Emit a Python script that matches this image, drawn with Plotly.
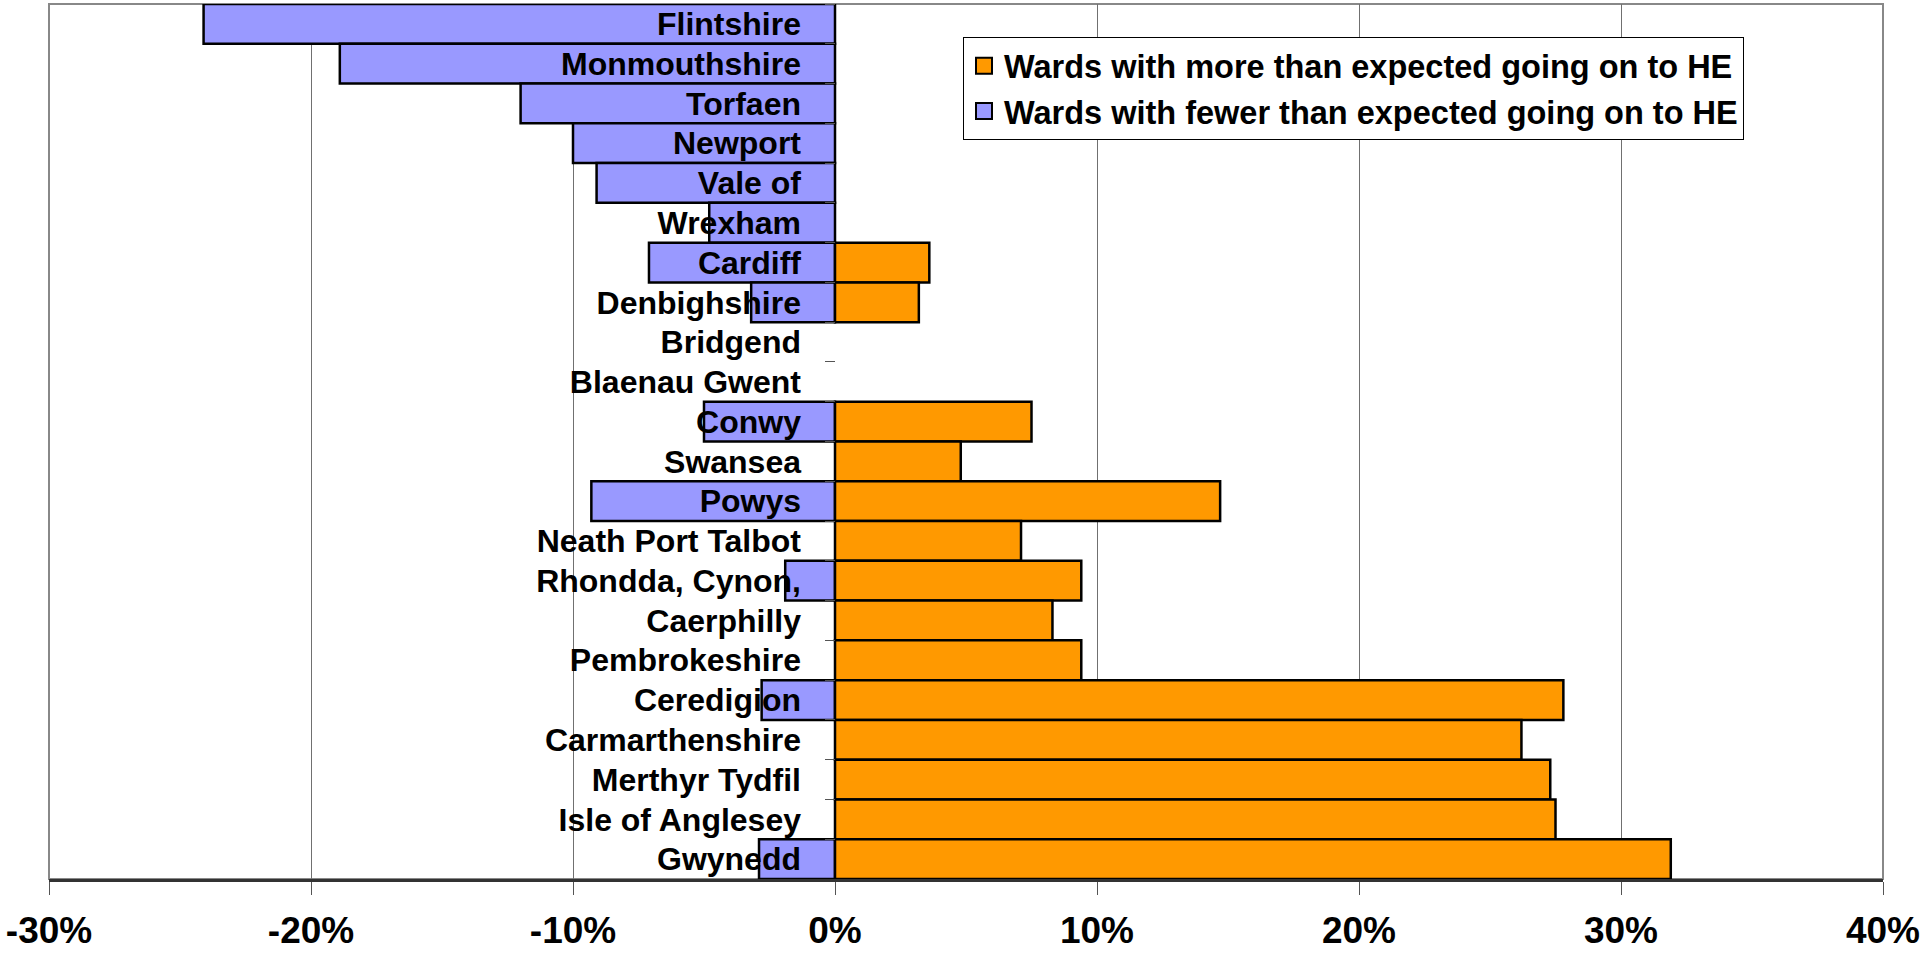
import plotly.graph_objects as go

categories = ["Flintshire", "Monmouthshire", "Torfaen", "Newport", "Vale of", "Wrexham",
              "Cardiff", "Denbighshire", "Bridgend", "Blaenau Gwent", "Conwy", "Swansea",
              "Powys", "Neath Port Talbot", "Rhondda, Cynon,", "Caerphilly", "Pembrokeshire",
              "Ceredigion", "Carmarthenshire", "Merthyr Tydfil", "Isle of Anglesey", "Gwynedd"]

fewer = [-24.1, -18.9, -12.0, -10.0, -9.1, -4.8, -7.1, -3.2, None, None, -5.0, None,
         -9.3, None, -1.9, None, None, -2.8, None, None, None, -2.9]
more = [None, None, None, None, None, None, 3.6, 3.2, None, None, 7.5, 4.8,
        14.7, 7.1, 9.4, 8.3, 9.4, 27.8, 26.2, 27.3, 27.5, 31.9]

series_names = ["Wards with more than expected going on to HE",
                "Wards with fewer than expected going on to HE"]
x_ticks = [-30, -20, -10, 0, 10, 20, 30, 40]
x_tick_labels = ["-30%", "-20%", "-10%", "0%", "10%", "20%", "30%", "40%"]

ORANGE = "#FF9900"
BLUE = "#9999FF"
FONT = "Liberation Sans, Arial, sans-serif"

xmin, xmax = x_ticks[0], x_ticks[-1]

fig = go.Figure()
fig.add_trace(go.Bar(y=categories, x=fewer, orientation="h", width=1,
                     marker=dict(color=BLUE, line=dict(color="black", width=2.5)),
                     showlegend=False, hoverinfo="skip"))
fig.add_trace(go.Bar(y=categories, x=more, orientation="h", width=1,
                     marker=dict(color=ORANGE, line=dict(color="black", width=2.5)),
                     showlegend=False, hoverinfo="skip"))
# legend entries
for name, col, grp in [(series_names[0], ORANGE, "a"), (series_names[1], BLUE, "b")]:
    fig.add_trace(go.Scatter(x=[None], y=[None], mode="markers", name=name, legendgroup=grp,
                             marker=dict(symbol="square", size=21, color=col,
                                         line=dict(color="black", width=2))))

fig.update_layout(
    width=1929, height=953,
    margin=dict(l=49, r=46, t=4, b=74),
    paper_bgcolor="white", plot_bgcolor="white",
    barmode="overlay",
    font=dict(family=FONT, color="black", weight="bold"),
    legend=dict(x=(963 - 49) / 1834, y=(879 - 37) / 875, xanchor="left", yanchor="top",
                bgcolor="white", bordercolor="black", borderwidth=1,
                font=dict(size=32.5, family=FONT, weight="bold"),
                traceorder="grouped", tracegroupgap=0, itemsizing="trace"),
    xaxis=dict(range=[xmin, xmax], tickvals=x_ticks, ticktext=x_tick_labels,
               automargin=False,
               showgrid=True, gridcolor="#707070", gridwidth=1,
               zeroline=True, zerolinecolor="white", zerolinewidth=1,
               showline=True, linecolor="#333333", linewidth=3,
               ticks="outside", ticklen=13, tickcolor="#555555", tickwidth=1,
               ticklabelstandoff=4,
               tickfont=dict(size=37, family=FONT, weight="bold", color="black")),
    yaxis=dict(categoryorder="array", categoryarray=categories,
               range=[len(categories) - 0.5, -0.5],
               anchor="free", position=(0 - xmin) / (xmax - xmin), side="left",
               automargin=False,
               showline=False, showgrid=False, zeroline=False,
               ticks="outside", tickson="boundaries", ticklen=10,
               tickcolor="#555555", tickwidth=1, ticklabelstandoff=34,
               tickfont=dict(size=32, family=FONT, weight="bold", color="black")),
    shapes=[dict(type="rect", xref="x domain", yref="y domain", x0=0, x1=1, y0=0, y1=1,
                 line=dict(color="#888888", width=2), layer="below")],
)

fig.write_html("out.html", config={"displayModeBar": False},
               post_script="document.body.style.margin='0';document.body.style.overflow='hidden';")
